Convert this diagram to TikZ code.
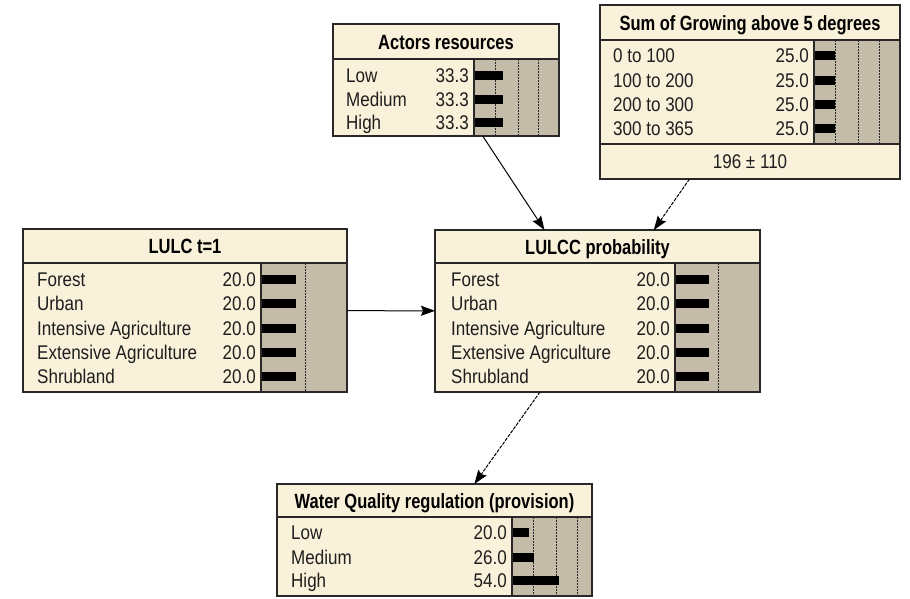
\documentclass[tikz,border=0pt]{standalone}
\usepackage{fontspec}
\setmainfont{Liberation Sans}
\newfontfamily\bodyfont[FakeStretch=0.86]{Liberation Sans}
\newfontfamily\titlefont[FakeStretch=0.8]{Liberation Sans}
\usetikzlibrary{arrows.meta}
\definecolor{cream}{RGB}{250,241,218}
\definecolor{barbg}{RGB}{196,188,168}
\definecolor{edgec}{RGB}{40,40,40}
\definecolor{txt}{RGB}{30,30,30}
\newcommand{\netrow}[7]{%
  \node[lbl] (#1l) at (#2,#4+7) {#5};
  \node[val] (#1v) at (#3-5,#4+7) {#6};
  \fill[black] (#3+1,#4-4.5) rectangle (#3+1+#7,#4+4.5);
}
\begin{document}
\begin{tikzpicture}[x=1pt,y=-1pt,
  box/.style={draw=edgec, line width=1.3pt, fill=cream, inner sep=0pt, outer sep=0pt},
  frame/.style={draw=edgec, line width=1.3pt},
  sep/.style={draw=edgec, line width=1.1pt},
  ttl/.style={font=\titlefont\bfseries\fontsize{20.6}{24}\selectfont, text=black, inner sep=0pt, anchor=base},
  lbl/.style={font=\bodyfont\fontsize{19.8}{22}\selectfont, text=txt, anchor=base west, inner sep=0pt},
  val/.style={font=\bodyfont\fontsize{19.8}{22}\selectfont, text=txt, anchor=base east, inner sep=0pt},
  gridl/.style={draw=edgec, line width=0.8pt, dash pattern=on 1.5pt off 1.5pt},
  link/.style={draw=black, line width=1pt, -{Stealth[length=14pt,width=10pt,inset=2pt]}},
  dlink/.style={link, dash pattern=on 3.5pt off 1.2pt}]
\useasboundingbox (0,0) rectangle (910,598);

% ---------- Actors resources ----------
\node[box, minimum width=226pt, minimum height=112pt] (actors) at (446,80) {};
\fill[barbg] (474,59) rectangle (559,136);
\draw[sep] (333,59) -- (559,59);
\draw[sep] (474,59) -- (474,136);
\foreach \gx in {495,518,538} \draw[gridl] (\gx,59) -- (\gx,136);
\node[ttl] (actorsT) at (446,49) {Actors resources};
\netrow{a1}{346}{474}{75}{Low}{33.3}{28}
\netrow{a2}{346}{474}{99}{Medium}{33.3}{28}
\netrow{a3}{346}{474}{122}{High}{33.3}{28}
\draw[frame] (actors.north west) rectangle (actors.south east);

% ---------- Sum of Growing ----------
\node[box, minimum width=300pt, minimum height=174pt] (sum) at (750,92) {};
\fill[barbg] (814,40) rectangle (900,144);
\draw[sep] (600,40) -- (900,40);
\draw[sep] (600,144) -- (900,144);
\draw[sep] (814,40) -- (814,144);
\foreach \gx in {835,858,879} \draw[gridl] (\gx,40) -- (\gx,144);
\node[ttl] (sumT) at (750,30) {Sum of Growing above 5 degrees};
\netrow{s1}{613}{814}{55}{0 to 100}{25.0}{20}
\netrow{s2}{613}{814}{80}{100 to 200}{25.0}{20}
\netrow{s3}{613}{814}{104}{200 to 300}{25.0}{20}
\netrow{s4}{613}{814}{128}{300 to 365}{25.0}{20}
\node[lbl, anchor=base] (sumF) at (750,168) {196 ± 110};
\draw[frame] (sum.north west) rectangle (sum.south east);

% ---------- LULC t=1 ----------
\node[box, minimum width=324pt, minimum height=163pt] (lulc) at (185,310.5) {};
\fill[barbg] (261,263) rectangle (347,392);
\draw[sep] (23,263) -- (347,263);
\draw[sep] (261,263) -- (261,392);
\draw[gridl] (305,263) -- (305,392);
\node[ttl] (lulcT) at (185,253.5) {LULC t=1};
\netrow{l1}{37}{261}{279}{Forest}{20.0}{34}
\netrow{l2}{37}{261}{303}{Urban}{20.0}{34}
\netrow{l3}{37}{261}{328}{Intensive Agriculture}{20.0}{34}
\netrow{l4}{37}{261}{352}{Extensive Agriculture}{20.0}{34}
\netrow{l5}{37}{261}{376}{Shrubland}{20.0}{34}
\draw[frame] (lulc.north west) rectangle (lulc.south east);

% ---------- LULCC probability ----------
\node[box, minimum width=325pt, minimum height=162pt] (lulcc) at (597.5,311) {};
\fill[barbg] (675,263) rectangle (760,392);
\draw[sep] (435,263) -- (760,263);
\draw[sep] (675,263) -- (675,392);
\draw[gridl] (718,263) -- (718,392);
\node[ttl] (lulccT) at (597.5,254) {LULCC probability};
\netrow{c1}{451}{675}{279}{Forest}{20.0}{33}
\netrow{c2}{451}{675}{303}{Urban}{20.0}{33}
\netrow{c3}{451}{675}{328}{Intensive Agriculture}{20.0}{33}
\netrow{c4}{451}{675}{352}{Extensive Agriculture}{20.0}{33}
\netrow{c5}{451}{675}{376}{Shrubland}{20.0}{33}
\draw[frame] (lulcc.north west) rectangle (lulcc.south east);

% ---------- Water Quality ----------
\node[box, minimum width=315pt, minimum height=112pt] (water) at (434.5,540) {};
\fill[barbg] (512,517) rectangle (592,596);
\draw[sep] (277,517) -- (592,517);
\draw[sep] (512,517) -- (512,596);
\foreach \gx in {533,556,577} \draw[gridl] (\gx,517) -- (\gx,596);
\node[ttl] (waterT) at (434.5,508) {Water Quality regulation (provision)};
\netrow{w1}{291}{512}{532}{Low}{20.0}{16}
\netrow{w2}{291}{512}{557}{Medium}{26.0}{21}
\netrow{w3}{291}{512}{580}{High}{54.0}{46}
\draw[frame] (water.north west) rectangle (water.south east);

% ---------- links ----------
\draw[link] (actors) -- (lulcc);
\draw[dlink] (sum) -- (lulcc);
\draw[link] (lulc) -- (lulcc);
\draw[dlink] (lulcc) -- (water);
\end{tikzpicture}
\end{document}
